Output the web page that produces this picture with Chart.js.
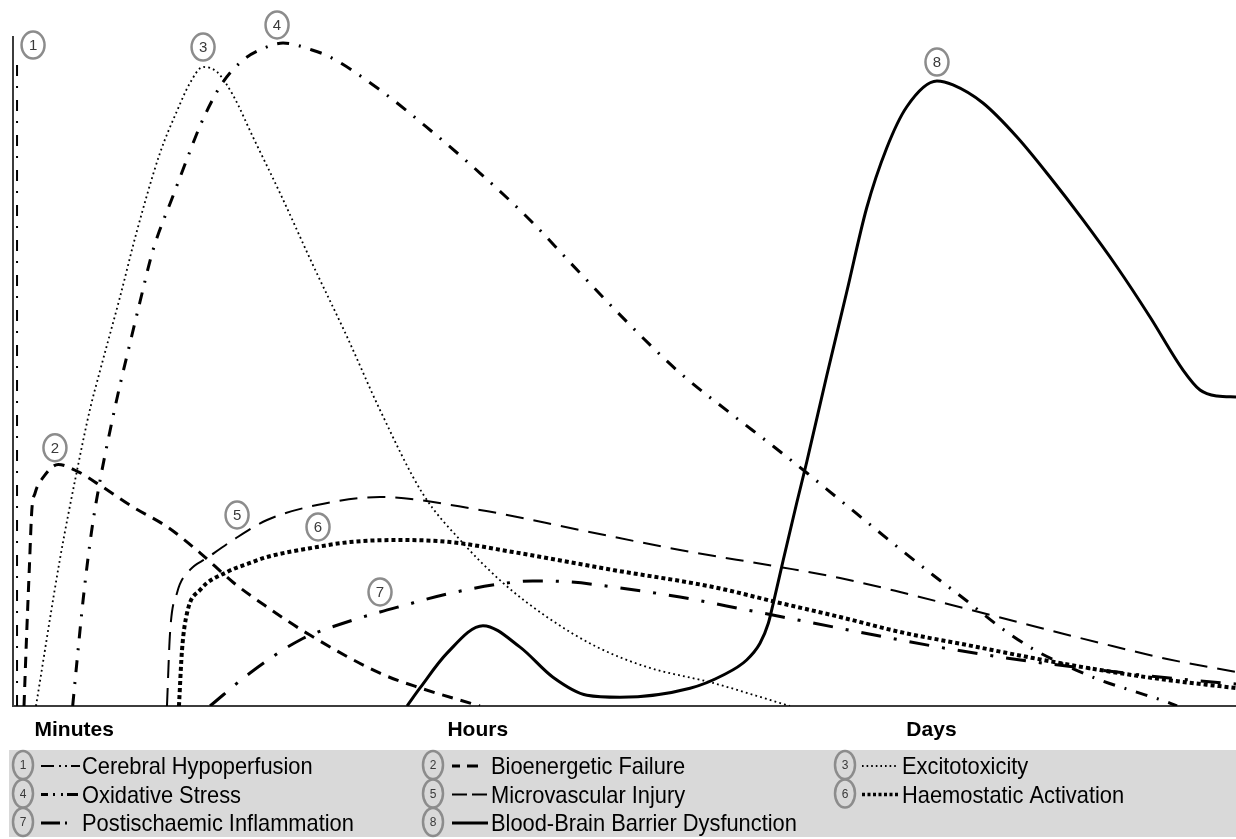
<!DOCTYPE html>
<html>
<head>
<meta charset="utf-8">
<script src="https://cdn.jsdelivr.net/npm/chart.js@4.4.1/dist/chart.umd.min.js"></script>
<style>
  html, body { margin: 0; padding: 0; background: #fff; }
  #wrap { width: 1236px; height: 839px; position: relative; }
</style>
</head>
<body>
<div id="wrap"><canvas id="chart"></canvas></div>
<script>
// Series names, in legend order (numbers 1..8)
const curveNames = [
    'Cerebral Hypoperfusion', 'Bioenergetic Failure', 'Excitotoxicity',
    'Oxidative Stress', 'Microvascular Injury', 'Haemostatic Activation',
    'Postischaemic Inflammation', 'Blood-Brain Barrier Dysfunction'
];

// Time phases along the x axis (0..100 = whole time course)
const phaseLabels = ['Minutes', 'Hours', 'Days'];
const phaseTicks = [5, 38, 75.1];

// Curves as [time, intensity] pairs, intensity 0..100
const hypoperfusion = [[0.33, 0], [0.33, 95.8]];
const bioenergetic = [[0.9, 0], [1.12, 10.9], [1.34, 20.8], [1.54, 29.3], [1.8, 31.8], [2.48, 34.2],
    [3.7, 36.1], [5.34, 35.0], [7.11, 33.0], [9.81, 29.75], [12.59, 26.8], [15.29, 22.9],
    [17.99, 18.5], [20.77, 14.8], [24.28, 10.6], [30.01, 4.9], [33.28, 2.7], [38.18, 0]];
const excitotoxicity = [[1.88, 0], [3.84, 21.97], [5.21, 34.98], [6.3, 44.39], [7.11, 50.07], [8.75, 61.14],
    [10.11, 70.85], [12.02, 82.66], [13.41, 88.94], [14.47, 93.12], [15.54, 95.52], [16.68, 94.77],
    [17.99, 91.3], [19.62, 85.05], [21.83, 76.68], [24.53, 65.9], [27.31, 55.2], [30.01, 44.24],
    [33.52, 31.69], [36.79, 24.36], [40.07, 18.39], [43.66, 13.3], [47.75, 8.82], [51.84, 5.83],
    [57.24, 3.44], [62.71, 0.45], [63.53, 0]];
const oxidative = [[4.88, 0], [5.21, 6.28], [5.75, 16.14], [6.44, 26.31], [7.11, 33.63], [7.93, 41.11],
    [8.75, 47.98], [9.57, 54.26], [10.38, 60.39], [11.45, 68.16], [13.08, 76.23], [14.23, 81.76],
    [15.29, 86.7], [16.35, 90.73], [17.17, 93.27], [18.81, 96.56], [20.77, 98.51], [22.08, 99.1],
    [24.45, 98.06], [25.92, 97.01], [30.01, 92.08], [34.1, 86.1], [38.18, 79.67], [42.27, 72.65],
    [46.36, 64.72], [50.45, 56.95], [54.54, 49.78], [58.63, 43.8], [62.14, 38.86], [64.92, 34.83],
    [67.62, 30.79], [72.53, 23.47], [75.22, 19.58], [78.0, 15.7], [80.7, 11.81], [83.4, 8.52],
    [86.18, 5.98], [88.88, 3.89], [91.58, 2.24], [94.36, 0.6], [95.18, 0]];
const microvascular = [[12.59, 0], [12.84, 10.91], [13.41, 16.89], [14.47, 20.33], [15.86, 22.12],
    [17.99, 24.81], [20.77, 27.8], [24.86, 30.04], [30.01, 31.24], [38.18, 29.3], [46.36, 26.31],
    [54.54, 23.32], [62.71, 20.78], [67.62, 19.13], [72.53, 17.04], [78.0, 14.5], [83.4, 11.96],
    [88.88, 9.42], [94.36, 7.03], [100, 5.08]];
const haemostatic = [[13.57, 0], [13.82, 8.37], [14.23, 13.9], [15.29, 17.34], [17.5, 20.03],
    [19.38, 21.38], [20.77, 22.27], [24.86, 23.77], [27.56, 24.51], [31.64, 24.81], [35.73, 24.51],
    [40.88, 23.02], [49.06, 20.33], [57.24, 17.79], [62.71, 15.4], [67.62, 13.3], [72.53, 11.06],
    [78.0, 9.12], [83.4, 7.17], [88.88, 5.38], [94.36, 3.89], [100, 2.69]];
const inflammation = [[16.11, 0], [19.38, 4.93], [23.47, 9.87], [27.56, 12.71], [30.01, 14.05],
    [31.64, 14.87], [35.49, 16.74], [39.82, 18.24], [42.5, 18.7], [45.5, 18.55], [49.06, 17.79],
    [54.54, 16.29], [60.02, 14.35], [65.41, 12.41], [72.53, 9.87], [76.6, 8.52], [80.7, 7.32],
    [84.79, 6.28], [88.88, 5.38], [92.97, 4.48], [97.06, 3.74], [100, 3.29]];
const barrier = [[32.22, 0], [33.28, 2.7], [35.49, 7.9], [38.43, 12.0], [41.46, 8.8], [44.15, 4.3],
    [46.93, 1.6], [49.63, 1.3], [55.36, 2.65], [58.08, 4.63], [59.99, 6.88], [61.08, 9.37], [61.76, 12.36],
    [62.17, 15.4], [62.98, 21.82], [64.08, 30.34], [64.9, 36.47], [66.53, 49.33], [68.17, 61.88],
    [69.8, 74.44], [71.44, 83.41], [73.07, 89.54], [75.55, 93.42], [76.86, 92.83], [79.31, 90.13],
    [82.09, 85.05], [84.79, 79.07], [87.49, 72.65], [90.27, 65.62], [92.97, 58.15], [95.67, 50.22],
    [97.06, 47.23], [98.45, 46.34], [100, 46.19]];

const curves = [hypoperfusion, bioenergetic, excitotoxicity, oxidative,
    microvascular, haemostatic, inflammation, barrier];

// Where each numbered circle sits, in [time, intensity]
const markerSpots = [[1.64, 98.8], [3.43, 38.6], [15.54, 98.5], [21.59, 101.8],
    [18.32, 28.55], [24.94, 26.76], [30.01, 17.04], [75.55, 96.26]];

// Line styles: chart dash, width, and the little sample in the legend
const lineStyles = [
    { dash: [11, 12, 2, 10], width: 2, sample: [13, 5, 2, 4, 2, 4, 10], sampleW: 2 },
    { dash: [11, 8], width: 3, sample: [8, 7, 11, 99], sampleW: 3 },
    { dash: [1.8, 3.2], width: 1.8, sample: [1.6, 3], sampleW: 1.8 },
    { dash: [12, 10, 2, 10], width: 3, sample: [7, 5, 2, 6, 2, 4, 11], sampleW: 3 },
    { dash: [18, 10], width: 2, sample: [15, 5, 15, 99], sampleW: 2 },
    { dash: [4, 3], width: 4, sample: [3, 2.5], sampleW: 3.5 },
    { dash: [20, 13, 3, 13], width: 3, sample: [19, 5, 2, 99], sampleW: 3 },
    { dash: [], width: 3, sample: [], sampleW: 3 }
];

const FONT = "'Liberation Sans', Arial, sans-serif";

function drawRing(ctx, cx, cy, rx, ry, num, fontSize) {
    ctx.save();
    ctx.beginPath();
    ctx.ellipse(cx, cy, rx, ry, 0, 0, Math.PI * 2);
    ctx.lineWidth = 2.5;
    ctx.strokeStyle = '#8c8c8c';
    ctx.stroke();
    ctx.fillStyle = '#3a3a3a';
    ctx.font = fontSize + 'px ' + FONT;
    ctx.textAlign = 'center';
    ctx.textBaseline = 'middle';
    ctx.fillText(String(num), cx, cy + 1);
    ctx.restore();
}

// Numbered circles next to the curves
const markerPlugin = {
    id: 'markers',
    afterDatasetsDraw(chart) {
        const { ctx, scales: { x, y } } = chart;
        markerSpots.forEach(([t, v], i) => {
            drawRing(ctx, x.getPixelForValue(t), y.getPixelForValue(v), 11.5, 13.5, i + 1, 15);
        });
    }
};

// Grey legend box under the axis
const legendPlugin = {
    id: 'greyLegend',
    afterDraw(chart) {
        const ctx = chart.ctx;
        const colX = [23, 433, 845];
        const textX = [82, 491, 902];
        const sampleStart = [41, 452, 862];
        const sampleEnd = [80, 488, 898];
        const baselines = [774, 802.5, 831];
        ctx.save();
        ctx.fillStyle = '#d9d9d9';
        ctx.fillRect(9, 750, 1227, 87);
        curveNames.forEach((name, i) => {
            const col = i % 3, row = Math.floor(i / 3);
            const base = baselines[row];
            const st = lineStyles[i];
            // line sample
            ctx.save();
            ctx.beginPath();
            ctx.setLineDash(st.sample);
            ctx.lineWidth = st.sampleW;
            ctx.strokeStyle = '#000';
            ctx.moveTo(sampleStart[col], base - 8);
            ctx.lineTo(sampleEnd[col], base - 8);
            ctx.stroke();
            ctx.restore();
            // text, slightly condensed
            ctx.save();
            ctx.translate(textX[col], base);
            ctx.scale(0.91, 1);
            ctx.fillStyle = '#000';
            ctx.font = '24px ' + FONT;
            ctx.textBaseline = 'alphabetic';
            ctx.fillText(name, 0, 0);
            ctx.restore();
            drawRing(ctx, colX[col], base - 9, 10, 14, i + 1, 12);
        });
        ctx.restore();
    }
};

const datasets = curves.map((pts, i) => ({
    label: curveNames[i],
    data: pts.map(([x, y]) => ({ x, y })),
    borderColor: '#000',
    borderWidth: lineStyles[i].width,
    borderDash: lineStyles[i].dash,
    pointRadius: 0,
    fill: false,
    tension: 0,
    cubicInterpolationMode: i === 0 ? 'default' : 'monotone'
}));

new Chart(document.getElementById('chart'), {
    type: 'line',
    data: { datasets },
    options: {
        responsive: true,
        maintainAspectRatio: false,
        devicePixelRatio: 1,
        animation: false,
        layout: { padding: { top: 37, left: 0, right: 0, bottom: 0 } },
        plugins: {
            legend: { display: false },
            tooltip: { enabled: false }
        },
        scales: {
            x: {
                type: 'linear',
                min: 0,
                max: 100,
                grid: { display: false, drawTicks: false },
                border: { display: true, color: '#3c3c3c', width: 2 },
                afterBuildTicks: scale => {
                    scale.ticks = phaseTicks.map(v => ({ value: v }));
                },
                afterFit: scale => { scale.height = 133; },
                ticks: {
                    autoSkip: false,
                    maxRotation: 0,
                    padding: 12,
                    color: '#000',
                    font: { family: FONT, size: 21, weight: 'bold' },
                    callback: (value, index) => phaseLabels[index]
                }
            },
            y: {
                min: 0,
                max: 100,
                grid: { display: false, drawTicks: false },
                border: { display: true, color: '#3c3c3c', width: 2 },
                ticks: { display: false },
                afterFit: scale => { scale.width = 13; }
            }
        }
    },
    plugins: [markerPlugin, legendPlugin]
});
</script>
</body>
</html>
